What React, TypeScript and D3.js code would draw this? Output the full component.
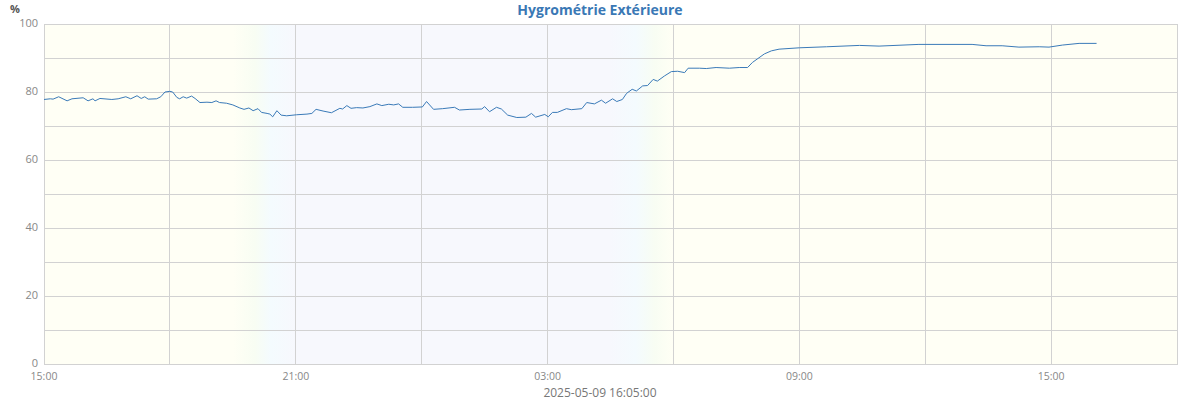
import React from "react";
import * as d3 from "d3";

const title = "Hygrométrie Extérieure";
const unitLabel = "%";
const footerText = "2025-05-09 16:05:00";

const startTime = "2025-05-08T15:00";
const endTime = "2025-05-09T18:00";

const yTicks = [0, 20, 40, 60, 80, 100];
const yGrid = [0, 10, 20, 30, 40, 50, 60, 70, 80, 90, 100];

// Day/night shading: [start, end] of twilight transitions
const duskStart = "2025-05-08T19:30";
const duskEnd = "2025-05-08T21:00";
const dawnStart = "2025-05-09T04:30";
const dawnEnd = "2025-05-09T06:00";

const times = [
  "2025-05-08T15:00", "2025-05-08T15:09", "2025-05-08T15:13", "2025-05-08T15:21", "2025-05-08T15:33",
  "2025-05-08T15:40", "2025-05-08T15:56", "2025-05-08T16:03", "2025-05-08T16:10", "2025-05-08T16:13",
  "2025-05-08T16:20", "2025-05-08T16:37", "2025-05-08T16:46", "2025-05-08T16:57", "2025-05-08T17:04",
  "2025-05-08T17:13", "2025-05-08T17:19", "2025-05-08T17:24", "2025-05-08T17:29", "2025-05-08T17:41",
  "2025-05-08T17:47", "2025-05-08T17:53", "2025-05-08T18:00", "2025-05-08T18:04", "2025-05-08T18:10",
  "2025-05-08T18:14", "2025-05-08T18:19", "2025-05-08T18:24", "2025-05-08T18:31", "2025-05-08T18:36",
  "2025-05-08T18:43", "2025-05-08T18:53", "2025-05-08T19:00", "2025-05-08T19:06", "2025-05-08T19:11",
  "2025-05-08T19:21", "2025-05-08T19:30", "2025-05-08T19:40", "2025-05-08T19:46", "2025-05-08T19:53",
  "2025-05-08T19:59", "2025-05-08T20:06", "2025-05-08T20:11", "2025-05-08T20:19", "2025-05-08T20:23",
  "2025-05-08T20:27", "2025-05-08T20:33", "2025-05-08T20:39", "2025-05-08T20:47", "2025-05-08T21:01",
  "2025-05-08T21:16", "2025-05-08T21:23", "2025-05-08T21:29", "2025-05-08T21:39", "2025-05-08T21:51",
  "2025-05-08T22:03", "2025-05-08T22:07", "2025-05-08T22:13", "2025-05-08T22:19", "2025-05-08T22:27",
  "2025-05-08T22:36", "2025-05-08T22:46", "2025-05-08T22:56", "2025-05-08T23:03", "2025-05-08T23:13",
  "2025-05-08T23:20", "2025-05-08T23:27", "2025-05-08T23:33", "2025-05-08T23:47", "2025-05-09T00:01",
  "2025-05-09T00:07", "2025-05-09T00:17", "2025-05-09T00:30", "2025-05-09T00:47", "2025-05-09T00:54",
  "2025-05-09T01:09", "2025-05-09T01:26", "2025-05-09T01:30", "2025-05-09T01:37", "2025-05-09T01:47",
  "2025-05-09T01:54", "2025-05-09T02:03", "2025-05-09T02:16", "2025-05-09T02:29", "2025-05-09T02:37",
  "2025-05-09T02:43", "2025-05-09T02:56", "2025-05-09T03:01", "2025-05-09T03:07", "2025-05-09T03:14",
  "2025-05-09T03:27", "2025-05-09T03:34", "2025-05-09T03:49", "2025-05-09T03:56", "2025-05-09T04:07",
  "2025-05-09T04:17", "2025-05-09T04:23", "2025-05-09T04:33", "2025-05-09T04:39", "2025-05-09T04:47",
  "2025-05-09T04:53", "2025-05-09T05:01", "2025-05-09T05:07", "2025-05-09T05:16", "2025-05-09T05:23",
  "2025-05-09T05:31", "2025-05-09T05:37", "2025-05-09T05:47", "2025-05-09T05:57", "2025-05-09T06:06",
  "2025-05-09T06:16", "2025-05-09T06:21", "2025-05-09T06:37", "2025-05-09T06:47", "2025-05-09T07:01",
  "2025-05-09T07:20", "2025-05-09T07:34", "2025-05-09T07:46", "2025-05-09T07:53", "2025-05-09T08:10",
  "2025-05-09T08:20", "2025-05-09T08:31", "2025-05-09T09:00", "2025-05-09T09:39", "2025-05-09T10:26",
  "2025-05-09T10:54", "2025-05-09T11:51", "2025-05-09T13:07", "2025-05-09T13:27", "2025-05-09T13:50",
  "2025-05-09T14:14", "2025-05-09T14:43", "2025-05-09T14:57", "2025-05-09T15:16", "2025-05-09T15:40",
  "2025-05-09T16:05",
];

const humidity = [
  77.8, 78.0, 77.9, 78.6, 77.4,
  78.0, 78.3, 77.4, 78.0, 77.4,
  78.1, 77.8, 78.0, 78.6, 78.0,
  78.9, 78.1, 78.6, 77.9, 78.0,
  78.6, 80.0, 80.2, 80.0, 78.4,
  78.0, 78.6, 78.2, 78.8, 78.1,
  76.9, 77.0, 76.9, 77.4, 76.9,
  76.7, 76.2, 75.3, 74.9, 75.3,
  74.5, 75.1, 74.0, 73.7, 73.5,
  72.7, 74.5, 73.2, 73.0, 73.3,
  73.5, 73.7, 74.9, 74.4, 73.9,
  75.2, 75.0, 76.0, 75.2, 75.4,
  75.3, 75.7, 76.5, 76.0, 76.4,
  76.2, 76.5, 75.5, 75.5, 75.6,
  77.2, 74.9, 75.1, 75.5, 74.7,
  74.9, 75.0, 75.7, 74.2, 75.5,
  75.0, 73.2, 72.5, 72.6, 73.7,
  72.6, 73.4, 72.7, 74.0, 74.0,
  75.1, 74.8, 75.1, 76.9, 76.5,
  77.6, 76.7, 78.0, 77.2, 77.8,
  79.6, 80.8, 80.3, 81.8, 81.9,
  83.7, 83.2, 84.7, 86.0, 86.1,
  85.7, 87.0, 87.0, 86.9, 87.2,
  87.0, 87.2, 87.2, 88.7, 91.2,
  92.1, 92.6, 93.0, 93.3, 93.7,
  93.5, 94.0, 94.0, 93.6, 93.6,
  93.2, 93.3, 93.2, 93.8, 94.3,
  94.3,
];

const W = 1200;
const H = 400;
const margin = { left: 44, right: 23, top: 24, bottom: 36 };

export default function App() {
  const parse = d3.timeParse("%Y-%m-%dT%H:%M");
  const t0 = parse(startTime)!;
  const t1 = parse(endTime)!;
  const x = d3.scaleTime().domain([t0, t1]).range([margin.left, W - margin.right]);
  const y = d3.scaleLinear().domain([0, 100]).range([H - margin.bottom, margin.top]);

  const data = times.map((t, i) => ({ t: parse(t)!, v: humidity[i] }));
  const line = d3
    .line<{ t: Date; v: number }>()
    .x((d) => x(d.t))
    .y((d) => y(d.v))
    .curve(d3.curveLinear);

  const gridTimes = x.ticks(d3.timeHour.every(3)!);
  const labelTimes = gridTimes.filter((d) => d.getHours() % 6 === 3);
  const fmt = d3.timeFormat("%H:%M");

  const x0 = margin.left;
  const x1 = W - margin.right;
  const pw = x1 - x0;
  const frac = (s: string) => (x(parse(s)!) - x0) / pw;

  const day = "#fffff5";
  const night = "#f7f8fd";
  const green = "#f8fdf3";
  const cyan = "#f4fbfe";

  const dS = frac(duskStart), dE = frac(duskEnd), aS = frac(dawnStart), aE = frac(dawnEnd);
  const stops = [
    { o: 0, c: day },
    { o: dS, c: day },
    { o: dS + (dE - dS) * 0.35, c: green },
    { o: dS + (dE - dS) * 0.6, c: cyan },
    { o: dE, c: night },
    { o: aS, c: night },
    { o: aS + (aE - aS) * 0.4, c: cyan },
    { o: aS + (aE - aS) * 0.7, c: green },
    { o: aE, c: day },
    { o: 1, c: day },
  ];

  const font = "'Open Sans', 'Noto Sans', sans-serif";

  return (
    <div style={{ position: "absolute", left: 0, top: 0 }}>
      <svg width={W} height={H} style={{ display: "block", fontFamily: font }}>
        <defs>
          <linearGradient id="daynight" x1="0" x2="1" y1="0" y2="0">
            {stops.map((s, i) => (
              <stop key={i} offset={s.o} stopColor={s.c} />
            ))}
          </linearGradient>
        </defs>
        <rect x={x0} y={margin.top} width={pw} height={H - margin.bottom - margin.top} fill="url(#daynight)" />
        {yGrid.map((v) => (
          <line key={"gy" + v} x1={x0} x2={x1} y1={y(v)} y2={y(v)} stroke="#d2d2d2" strokeWidth={1} shapeRendering="crispEdges" />
        ))}
        {gridTimes.map((d, i) => (
          <line key={"gx" + i} x1={x(d)} x2={x(d)} y1={margin.top} y2={H - margin.bottom} stroke="#d2d2d2" strokeWidth={1} shapeRendering="crispEdges" />
        ))}
        <rect x={x0} y={margin.top} width={pw} height={H - margin.bottom - margin.top} fill="none" stroke="#d2d2d2" strokeWidth={1} shapeRendering="crispEdges" />
        <path d={line(data) || ""} fill="none" stroke="#3a7ab8" strokeWidth={1} strokeLinejoin="round" />
        {yTicks.map((v) => (
          <text key={"ty" + v} x={38} y={y(v) - 1} dy="0.35em" textAnchor="end" fontSize={11} fill="#888">
            {v}
          </text>
        ))}
        {labelTimes.map((d, i) => (
          <text key={"tx" + i} x={x(d)} y={380} textAnchor="middle" fontSize={10.5} fill="#888">
            {fmt(d)}
          </text>
        ))}
        <text x={W / 2} y={15} textAnchor="middle" fontSize={14} fontWeight="bold" fill="#3a78b5">
          {title}
        </text>
        <text x={10} y={13} fontSize={11} fontWeight="bold" fill="#555">
          {unitLabel}
        </text>
        <text x={W / 2} y={397} textAnchor="middle" fontSize={12} fill="#777">
          {footerText}
        </text>
      </svg>
    </div>
  );
}
